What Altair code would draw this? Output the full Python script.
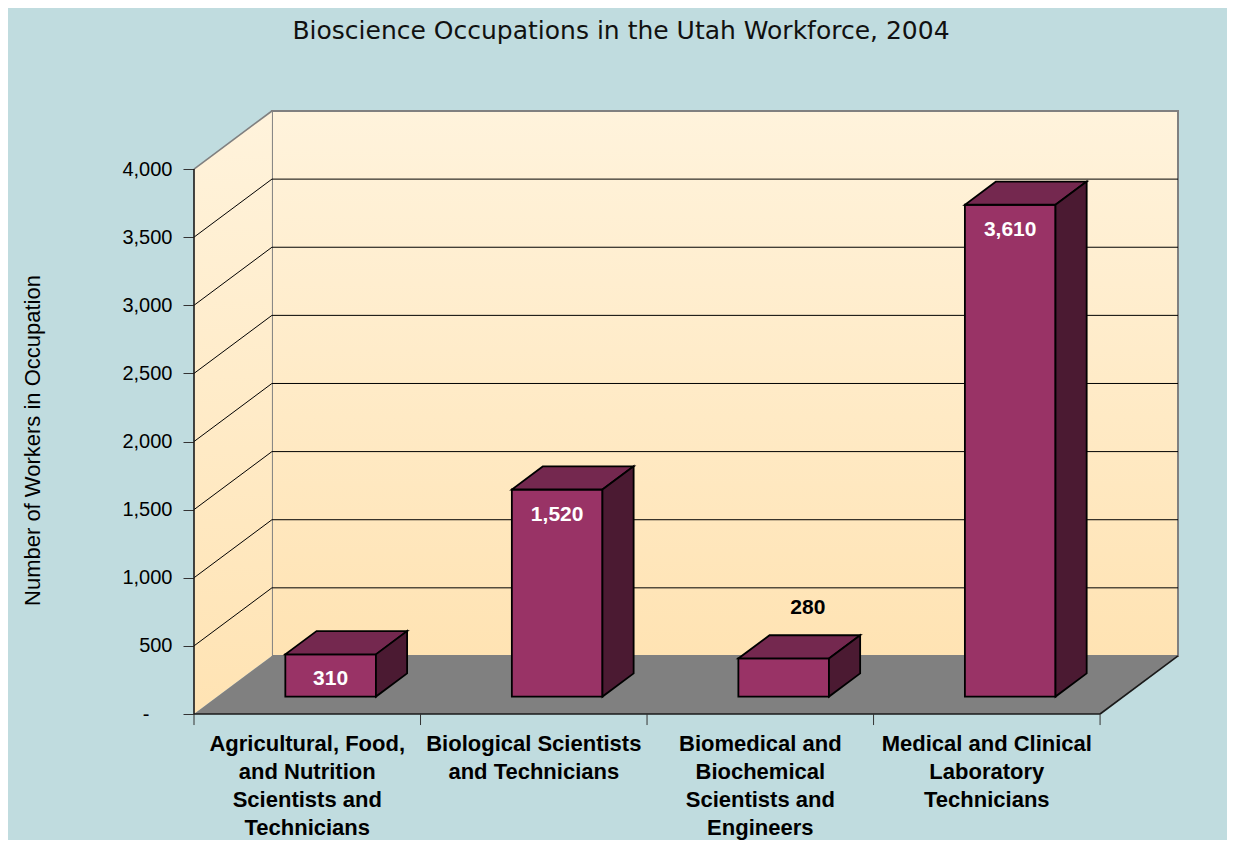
import altair as alt
import pandas as pd

# ---------------- data ----------------
categories = [
    "Agricultural, Food,\nand Nutrition\nScientists and\nTechnicians",
    "Biological Scientists\nand Technicians",
    "Biomedical and\nBiochemical\nScientists and\nEngineers",
    "Medical and Clinical\nLaboratory\nTechnicians",
]
values = [310, 1520, 280, 3610]
value_labels = ["310", "1,520", "280", "3,610"]
label_inside = [True, True, False, True]
y_ticks = [0, 500, 1000, 1500, 2000, 2500, 3000, 3500, 4000]

TITLE = "Bioscience Occupations in the Utah Workforce, 2004"
Y_TITLE = "Number of Workers in Occupation"

# ---------------- 3-D geometry (data units) ----------------
Y_MAX = max(y_ticks)
N = len(categories)
DX = 0.344      # depth shift, in category slots
DY = 426        # depth shift, in value units
BAR_L, BAR_R = 0.3, 0.7
F0, F1 = 0.3, 0.7
XMAX = N + DX
YMAX = Y_MAX + DY

BG = "#C0DCDF"
WALL_TOP = "#FFF3DC"
WALL_BOT = "#FFE3B3"
FLOOR = "#808080"
FRONT = "#993366"
TOP = "#74284F"
SIDE = "#4B1A32"

xs = alt.Scale(domain=[0, XMAX], nice=False, zero=False)
ys = alt.Scale(domain=[0, YMAX], nice=False, zero=False)

wall_grad = alt.Gradient(
    gradient="linear",
    stops=[alt.GradientStop(color=WALL_TOP, offset=0),
           alt.GradientStop(color=WALL_BOT, offset=1)],
    x1=0, x2=0, y1=0, y2=1,
)

y_axis = alt.Axis(
    values=y_ticks,
    labelExpr="datum.value == 0 ? '-' : format(datum.value, ',')",
    tickSize=11, tickColor="#333333", tickWidth=1,
    domain=False, grid=False, labelFlush=False, labelOverlap=False,
    labelFont="Liberation Sans", labelFontSize=20, labelColor="black",
    labelPadding={"condition": {"test": "datum.value === 0", "value": 34}, "value": 11},
    title=Y_TITLE, titleFont="Liberation Sans", titleFontSize=22, titleFontWeight="normal",
    titleColor="black", titleAngle=270, titleX=-155, titleY=329,
    titleAlign="center", titleBaseline="alphabetic",
)


def X(field):
    return alt.X(field, scale=xs, axis=None, stack=None)


def Y(field):
    return alt.Y(field, scale=ys, axis=y_axis, stack=None)


# ---------------- walls & floor ----------------
back_df = pd.DataFrame([{"x": DX, "x2": XMAX, "y": DY, "y2": YMAX}])
back = alt.Chart(back_df).mark_rect(fill=wall_grad, stroke="#808080", strokeWidth=2).encode(
    x=X("x:Q"), x2="x2:Q", y=Y("y:Q"), y2="y2:Q",
)

left_df = pd.DataFrame([
    {"x": 0, "ya": Y_MAX, "yb": 0},
    {"x": DX, "ya": YMAX, "yb": DY},
])
left = alt.Chart(left_df).mark_area(orient="vertical", fill=wall_grad).encode(
    x=X("x:Q"), y=Y("ya:Q"), y2="yb:Q",
)

floor_df = pd.DataFrame([
    {"y": 0, "xa": 0, "xb": N},
    {"y": DY, "xa": DX, "xb": XMAX},
])
floor = alt.Chart(floor_df).mark_area(orient="horizontal", fill=FLOOR).encode(
    y=Y("y:Q"), x=X("xa:Q"), x2="xb:Q",
)

# ---------------- grid lines ----------------
inner = y_ticks[1:-1]
back_grid_df = pd.DataFrame({"x": DX, "x2": XMAX, "y": [v + DY for v in inner]})
back_grid = alt.Chart(back_grid_df).mark_rule(color="black", strokeWidth=1).encode(
    x=X("x:Q"), x2="x2:Q", y=Y("y:Q"),
)
left_grid_df = pd.DataFrame({"x": 0.0, "x2": DX, "y": inner, "y2": [v + DY for v in inner]})
left_grid = alt.Chart(left_grid_df).mark_rule(color="black", strokeWidth=1).encode(
    x=X("x:Q"), x2="x2:Q", y=Y("y:Q"), y2="y2:Q",
)

# ---------------- edges ----------------
edges_df = pd.DataFrame([
    {"x": 0.0, "x2": DX, "y": Y_MAX, "y2": YMAX, "kind": "gray"},
    {"x": 0.0, "x2": 0.0, "y": 0, "y2": Y_MAX, "kind": "dark"},
    {"x": 0.0, "x2": float(N), "y": 0, "y2": 0, "kind": "dark"},
    {"x": float(N), "x2": XMAX, "y": 0, "y2": DY, "kind": "dark"},
])
edges = alt.Chart(edges_df).mark_rule(strokeWidth=1.6).encode(
    x=X("x:Q"), x2="x2:Q", y=Y("y:Q"), y2="y2:Q",
    color=alt.Color("kind:N", scale=alt.Scale(domain=["gray", "dark"], range=["#808080", "#1a1a1a"]), legend=None),
)

xtick_df = pd.DataFrame({"x": [float(k) for k in range(N + 1)], "y": 0, "y2": -81})
xticks = alt.Chart(xtick_df).mark_rule(color="#333333", strokeWidth=1).encode(
    x=X("x:Q"), y=Y("y:Q"), y2="y2:Q",
)

# ---------------- bars ----------------
front_rows, top_rows, side_rows = [], [], []
for i, v in enumerate(values):
    L0, R0 = i + BAR_L + F0 * DX, i + BAR_R + F0 * DX
    L1, R1 = i + BAR_L + F1 * DX, i + BAR_R + F1 * DX
    front_rows.append({"bar": i, "x": L0, "x2": R0, "y": F0 * DY, "y2": v + F0 * DY})
    top_rows += [
        {"bar": i, "y": v + F0 * DY, "xa": L0, "xb": R0},
        {"bar": i, "y": v + F1 * DY, "xa": L1, "xb": R1},
    ]
    side_rows += [
        {"bar": i, "x": R0, "ya": v + F0 * DY, "yb": F0 * DY},
        {"bar": i, "x": R1, "ya": v + F1 * DY, "yb": F1 * DY},
    ]

front = alt.Chart(pd.DataFrame(front_rows)).mark_rect(fill=FRONT, stroke="black", strokeWidth=1.8).encode(
    x=X("x:Q"), x2="x2:Q", y=Y("y:Q"), y2="y2:Q",
)
top = alt.Chart(pd.DataFrame(top_rows)).mark_area(
    orient="horizontal", fill=TOP, stroke="black", strokeWidth=1.8, strokeJoin="miter"
).encode(
    y=Y("y:Q"), x=X("xa:Q"), x2="xb:Q", detail="bar:N",
)
side = alt.Chart(pd.DataFrame(side_rows)).mark_area(
    orient="vertical", fill=SIDE, stroke="black", strokeWidth=1.8, strokeJoin="miter"
).encode(
    x=X("x:Q"), y=Y("ya:Q"), y2="yb:Q", detail="bar:N",
)

# ---------------- labels ----------------
in_rows, out_rows = [], []
for i, (v, lab, ins) in enumerate(zip(values, value_labels, label_inside)):
    if ins:
        in_rows.append({"x": i + 0.5 + F0 * DX, "y": v + F0 * DY, "t": lab})
    else:
        out_rows.append({"x": i + 0.5 + F1 * DX, "y": v + F1 * DY, "t": lab})

lab_in = alt.Chart(pd.DataFrame(in_rows)).mark_text(
    font="Liberation Sans", fontSize=21, fontWeight="bold", color="white",
    baseline="middle", align="center", dy=25,
).encode(x=X("x:Q"), y=Y("y:Q"), text="t:N")

lab_out = alt.Chart(pd.DataFrame(out_rows)).mark_text(
    font="Liberation Sans", fontSize=21, fontWeight="bold", color="black",
    baseline="middle", align="center", dy=-27, dx=-7,
).encode(x=X("x:Q"), y=Y("y:Q"), text="t:N")

cat_df = pd.DataFrame({"x": [i + 0.5 for i in range(N)], "y": 0, "t": categories})
cat_text = alt.Chart(cat_df).mark_text(
    font="Liberation Sans", fontSize=22, fontWeight="bold", color="black",
    lineBreak="\n", lineHeight=28, baseline="alphabetic", align="center", dy=37,
).encode(x=X("x:Q"), y=Y("y:Q"), text="t:N")

chart = alt.layer(
    back, left, floor, back_grid, left_grid, edges, xticks,
    front, top, side, lab_in, lab_out, cat_text,
).properties(
    width=984, height=603,
    autosize=alt.AutoSizeParams(type="none"),
    padding={"left": 186, "top": 103, "right": 49, "bottom": 126},
    background=BG,
    title=alt.TitleParams(
        TITLE, font="DejaVu Sans", fontSize=25, fontWeight="normal", color="#111111",
        anchor="middle", frame="group", dx=-65, offset=46, baseline="alphabetic",
    ),
).configure_view(stroke=None)

chart.save("out.html", embed_options={"renderer": "svg", "actions": False})
